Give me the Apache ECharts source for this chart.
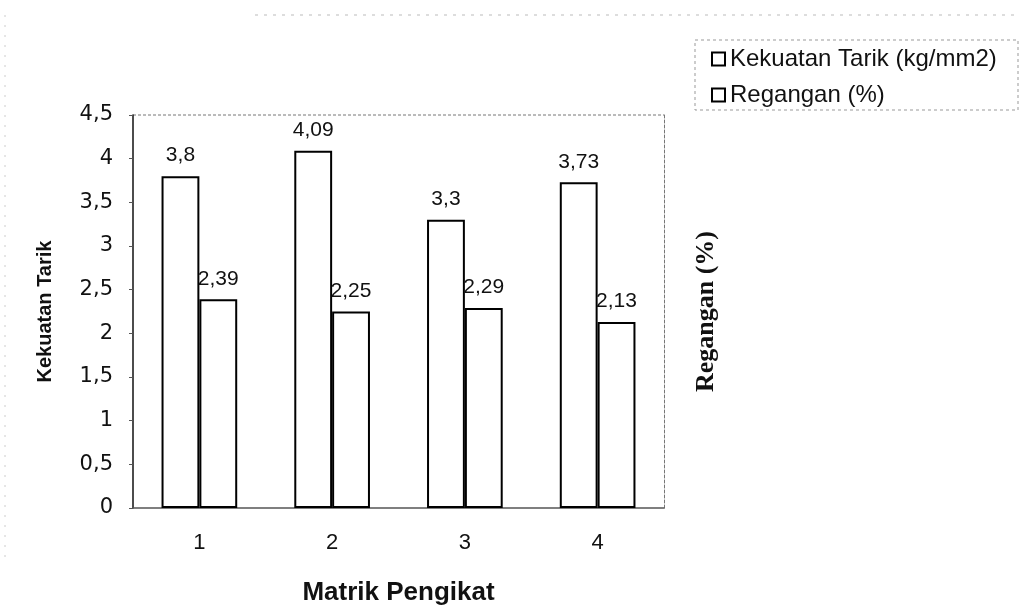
<!DOCTYPE html>
<html>
<head>
<meta charset="utf-8">
<script src="https://cdn.jsdelivr.net/npm/echarts@6/dist/echarts.min.js"></script>
<style>
  html, body { margin: 0; padding: 0; background: #fff; }
  #chart { width: 1020px; height: 616px; }
</style>
</head>
<body>
<div id="chart"></div>
<script>
// Matrik pengikat categories and measured values
const categories = ['1', '2', '3', '4'];
const kekuatanTarik = [3.8, 4.09, 3.3, 3.73];
const regangan = [2.39, 2.25, 2.29, 2.13];
const yTicks = [0, 0.5, 1, 1.5, 2, 2.5, 3, 3.5, 4, 4.5];

const fmt = v => String(v).replace('.', ',');
const SANS = 'Liberation Sans, Arial, sans-serif';

const chart = echarts.init(document.getElementById('chart'));

const barStyle = { color: '#ffffff', borderColor: '#000000', borderWidth: 2 };
const labelStyle = {
  show: true, position: 'top', distance: 10,
  fontFamily: SANS, fontSize: 21, color: '#111',
  formatter: p => fmt(p.value)
};

chart.setOption({
  animation: false,
  backgroundColor: '#ffffff',
  grid: { left: 133, right: 356, top: 115, bottom: 108, show: false },
  legend: {
    orient: 'vertical',
    left: 706, top: 42,
    itemWidth: 13, itemHeight: 13, itemGap: 12,
    icon: 'rect',
    textStyle: { fontFamily: SANS, fontSize: 24, color: '#111' },
    data: [
      { name: 'Kekuatan Tarik (kg/mm2)', itemStyle: { color: '#fff', borderColor: '#000', borderWidth: 2 } },
      { name: 'Regangan (%)', itemStyle: { color: '#fff', borderColor: '#000', borderWidth: 2 } }
    ]
  },
  xAxis: {
    type: 'category',
    data: categories,
    name: 'Matrik Pengikat',
    nameLocation: 'middle',
    nameGap: 72,
    nameTextStyle: { fontFamily: SANS, fontSize: 26, fontWeight: 'bold', color: '#111' },
    axisLine: { lineStyle: { color: '#555', width: 1.5 } },
    axisTick: { show: false },
    axisLabel: { margin: 24, fontFamily: SANS, fontSize: 22, color: '#111' }
  },
  yAxis: [
    {
      type: 'value',
      min: yTicks[0], max: yTicks[yTicks.length - 1], interval: 0.5,
      name: 'Kekuatan Tarik',
      nameLocation: 'middle',
      nameGap: 78,
      nameTextStyle: { fontFamily: 'Liberation Sans Narrow, Arial Narrow, ' + SANS, fontSize: 20, fontWeight: 'bold', color: '#111' },
      axisLine: { show: true, lineStyle: { color: '#111', width: 1.5 } },
      axisTick: { show: true, length: 4, lineStyle: { color: '#555' } },
      axisLabel: { margin: 20, fontFamily: 'DejaVu Sans, ' + SANS, fontSize: 21, color: '#111', formatter: v => fmt(v) },
      splitLine: { show: false }
    },
    {
      type: 'value',
      min: yTicks[0], max: yTicks[yTicks.length - 1], interval: 0.5,
      position: 'right',
      name: 'Regangan (%)',
      nameLocation: 'middle',
      nameGap: 29,
      nameRotate: 90,
      nameTextStyle: { fontFamily: 'Liberation Serif, Times New Roman, serif', fontSize: 26, fontWeight: 'bold', color: '#111' },
      axisLine: { show: true, lineStyle: { color: '#777', width: 1, type: [3, 2] } },
      axisTick: { show: false },
      axisLabel: { show: false },
      splitLine: { show: false }
    }
  ],
  graphic: [
    // dotted top edge of the plot area
    { type: 'line', shape: { x1: 133, y1: 115, x2: 664, y2: 115 }, style: { stroke: '#777', lineWidth: 1, lineDash: [3, 2] } },
    // dotted frame around the legend
    { type: 'rect', shape: { x: 695, y: 40, width: 323, height: 70 }, style: { fill: 'none', stroke: '#999', lineWidth: 1, lineDash: [3, 3] } },
    // faint chart-area border
    { type: 'line', shape: { x1: 5, y1: 15, x2: 5, y2: 560 }, style: { stroke: '#ccc', lineWidth: 1, lineDash: [2, 8] } },
    { type: 'line', shape: { x1: 255, y1: 15, x2: 1020, y2: 15 }, style: { stroke: '#bbb', lineWidth: 1, lineDash: [3, 6] } }
  ],
  series: [
    {
      name: 'Kekuatan Tarik (kg/mm2)',
      type: 'bar',
      data: kekuatanTarik,
      barGap: '0%',
      barCategoryGap: '43%',
      itemStyle: barStyle,
      label: labelStyle
    },
    {
      name: 'Regangan (%)',
      type: 'bar',
      data: regangan,
      itemStyle: barStyle,
      label: labelStyle
    }
  ]
});
</script>
</body>
</html>
